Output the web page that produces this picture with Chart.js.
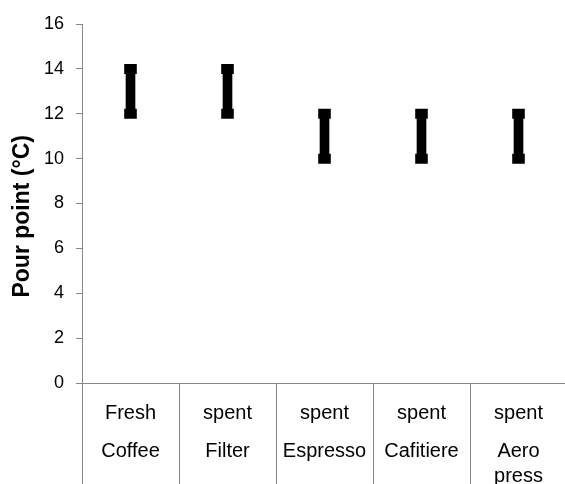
<!DOCTYPE html>
<html>
<head>
<meta charset="utf-8">
<script src="https://cdn.jsdelivr.net/npm/chart.js@4/dist/chart.umd.min.js"></script>
<style>
  html, body { margin: 0; padding: 0; background: #fff; overflow: hidden; }
  #wrap { position: relative; width: 565px; height: 484px; overflow: hidden; }
  #box { position: absolute; left: 0; top: 0; width: 600px; height: 510px; }
</style>
</head>
<body>
<div id="wrap"><div id="box"><canvas id="c" width="600" height="510"></canvas></div></div>
<script>
const categories = [
  ["Fresh", "", "", "Coffee"],
  ["spent", "", "", "Filter"],
  ["spent", "", "", "Espresso"],
  ["spent", "", "", "Cafitiere"],
  ["spent", "", "", "Aero", "", "press"]
];
const lowValues = [12, 12, 10, 10, 10];
const highValues = [14, 14, 12, 12, 12];
const yTicks = [0, 2, 4, 6, 8, 10, 12, 14, 16];
const yTitle = "Pour point (°C)\u00A0\u00A0\u00A0\u00A0";

const ranges = lowValues.map((lo, i) => [lo, highValues[i]]);
const FONT = "'Liberation Sans', Arial, sans-serif";
const AXIS = "#868686";
const H = 510;
const RIGHT = 567;

new Chart(document.getElementById('c'), {
  type: 'bar',
  data: {
    labels: categories,
    datasets: [
      { type: 'bar', data: ranges, backgroundColor: '#000', borderWidth: 0, barThickness: 9, order: 2 },
      { type: 'line', data: highValues, showLine: false, pointStyle: 'line', pointRadius: 6.3,
        pointBorderWidth: 10, pointBorderColor: '#000', pointBackgroundColor: '#000', order: 1 },
      { type: 'line', data: lowValues, showLine: false, pointStyle: 'line', pointRadius: 6.3,
        pointBorderWidth: 10, pointBorderColor: '#000', pointBackgroundColor: '#000', order: 1 }
    ]
  },
  options: {
    responsive: false,
    animation: false,
    devicePixelRatio: 1,
    layout: { padding: { left: 0, right: 0, top: 24, bottom: 0 } },
    plugins: { legend: { display: false }, tooltip: { enabled: false } },
    scales: {
      x: {
        offset: true,
        grid: { display: true, drawOnChartArea: false, drawTicks: true, tickLength: 127, color: AXIS, lineWidth: 1, offset: true },
        border: { display: true, color: AXIS, width: 1 },
        ticks: {
          color: '#000', padding: -103, maxRotation: 0, autoSkip: false,
          font: { family: FONT, size: 20, lineHeight: '12.6px' }
        },
        afterFit: (s) => { s.height = H - 383; s.paddingRight = 0; s.paddingLeft = 0; }
      },
      y: {
        min: 0, max: 16,
        afterBuildTicks: (s) => { s.ticks = yTicks.map(v => ({ value: v })); },
        grid: { display: true, drawOnChartArea: false, drawTicks: true, tickLength: 6, color: AXIS, lineWidth: 1 },
        border: { display: true, color: AXIS, width: 1 },
        ticks: { color: '#000', padding: 12, font: { family: FONT, size: 18 } },
        title: { display: true, text: yTitle, color: '#000', padding: { top: 9, bottom: 0 },
                 font: { family: FONT, size: 23, weight: 'bold', lineHeight: 1.2 } },
        afterFit: (s) => { s.width = 82; }
      }
    }
  },
  plugins: [{
    id: 'rightEdge',
    beforeLayout(chart) { chart.options.layout.padding.right = chart.width - RIGHT; }
  }]
});
</script>
</body>
</html>
